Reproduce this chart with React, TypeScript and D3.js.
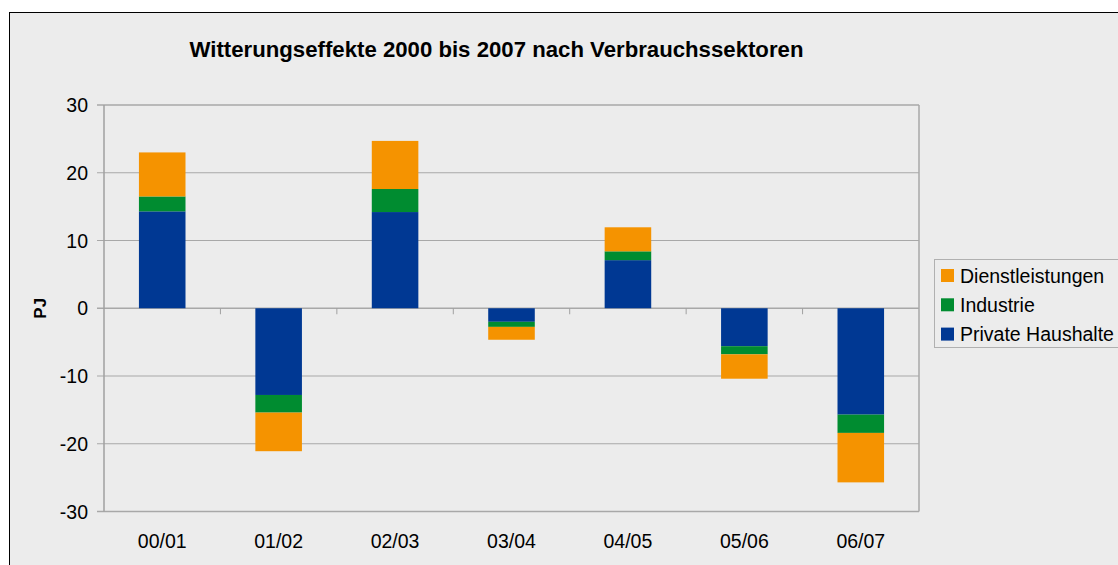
import React from "react";
import * as d3 from "d3";

// data (PJ)
const periods = ["00/01", "01/02", "02/03", "03/04", "04/05", "05/06", "06/07"];
const seriesNames = ["Private Haushalte", "Industrie", "Dienstleistungen"];
const privateHaushalte = [14.3, -12.8, 14.2, -2.0, 7.1, -5.6, -15.7];
const industrie = [2.2, -2.6, 3.4, -0.75, 1.3, -1.2, -2.7];
const dienstleistungen = [6.5, -5.7, 7.1, -1.9, 3.55, -3.6, -7.3];
const yTicks = [30, 20, 10, 0, -10, -20, -30];
const colors = ["#003893", "#008c30", "#f59300"];

const W = 1118;
const H = 565;
const margin = { left: 104, top: 105, right: 919, bottom: 511.5 };
const FONT = "Liberation Sans, Arial, sans-serif";

export default function App() {
  const x = d3
    .scaleBand()
    .domain(periods)
    .range([margin.left, margin.right])
    .paddingInner(0.6)
    .paddingOuter(0.3);
  const band = d3.scaleBand().domain(periods).range([margin.left, margin.right]);
  const y = d3.scaleLinear().domain([-30, 30]).range([margin.bottom, margin.top]);

  const rows = periods.map((p, i) => ({
    period: p,
    ph: privateHaushalte[i],
    ind: industrie[i],
    dl: dienstleistungen[i],
  }));
  const stacked = d3
    .stack<any>()
    .keys(["ph", "ind", "dl"])
    .offset(d3.stackOffsetDiverging)(rows);

  const legendItems = [
    { name: seriesNames[2], color: colors[2] },
    { name: seriesNames[1], color: colors[1] },
    { name: seriesNames[0], color: colors[0] },
  ];

  return (
    <svg
      width={W}
      height={H}
      style={{ position: "absolute", left: 0, top: 0, fontFamily: FONT }}
    >
      <rect x={0} y={0} width={W} height={H} fill="#fff" />
      <rect x={9.5} y={12.5} width={1200} height={700} fill="#ececec" stroke="#000" />

      {/* title */}
      <text x={496.5} y={56.5} textAnchor="middle" fontSize={22.2} fontWeight="bold">
        Witterungseffekte 2000 bis 2007 nach Verbrauchssektoren
      </text>

      {/* grid */}
      {yTicks.map((t) => (
        <g key={t}>
          <line
            x1={97}
            x2={margin.right}
            y1={y(t)}
            y2={y(t)}
            stroke="#a8a8a8"
            strokeWidth={t === 30 || t === -30 || t === 0 ? 1.5 : 1}
          />
          <text x={88} y={y(t) + 7} textAnchor="end" fontSize={19.5}>
            {t}
          </text>
        </g>
      ))}
      <line x1={margin.left} x2={margin.left} y1={margin.top} y2={margin.bottom} stroke="#a0a0a0" strokeWidth={1.5} />
      <line x1={margin.right} x2={margin.right} y1={margin.top} y2={margin.bottom} stroke="#a8a8a8" strokeWidth={1.5} />

      {/* bars */}
      {stacked.map((s, si) => (
        <g key={s.key} fill={colors[si]}>
          {s.map((d, i) => (
            <rect
              key={i}
              x={x(periods[i])}
              width={x.bandwidth()}
              y={y(Math.max(d[0], d[1]))}
              height={Math.abs(y(d[0]) - y(d[1]))}
            />
          ))}
        </g>
      ))}

      {/* category ticks on zero line */}
      {periods.slice(1).map((p) => (
        <line key={p} x1={band(p)} x2={band(p)} y1={y(0)} y2={y(0) + 6} stroke="#a0a0a0" strokeWidth={1} />
      ))}
      {periods.map((p) => (
        <text key={p} x={(band(p) as number) + band.bandwidth() / 2} y={548} textAnchor="middle" fontSize={19.5}>
          {p}
        </text>
      ))}

      {/* y axis title */}
      <text
        transform={`translate(46,${y(0)}) rotate(-90)`}
        textAnchor="middle"
        fontSize={17}
        fontWeight="bold"
      >
        PJ
      </text>

      {/* legend */}
      <rect x={934.5} y={259.5} width={300} height={88} fill="#ececec" stroke="#b0b0b0" />
      {legendItems.map((it, i) => (
        <g key={it.name} transform={`translate(941,${275.5 + i * 29.3})`}>
          <rect x={0} y={-6.5} width={13} height={13} fill={it.color} />
          <text x={19} y={7} fontSize={19.5}>
            {it.name}
          </text>
        </g>
      ))}
    </svg>
  );
}
